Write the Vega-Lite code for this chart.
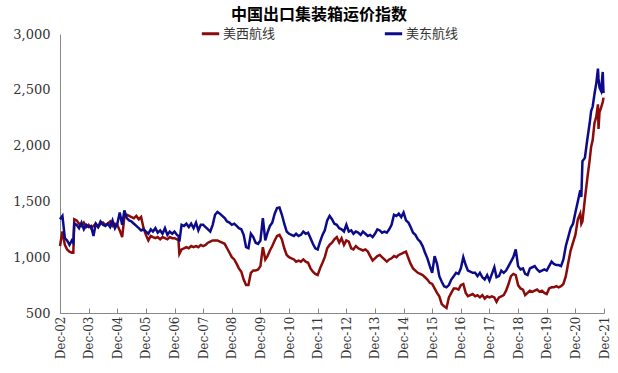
{
  "$schema": "https://vega.github.io/schema/vega-lite/v6.json",
  "width": 544,
  "height": 279,
  "autosize": {"type": "none"},
  "padding": {"left": 60, "top": 34, "right": 14, "bottom": 60},
  "background": "white",
  "title": {"text": "中国出口集装箱运价指数", "font": "Noto Sans CJK SC", "fontSize": 16, "fontWeight": "bold", "color": "#000", "anchor": "middle", "frame": "group", "offset": 2, "dx": -13, "dy": 2},
  "config": {"view": {"stroke": null}},
  "data": {"values": [
    {"d":"2002-12-01","美西航线":1100,"美东航线":1340},
    {"d":"2003-01-01","美西航线":1230,"美东航线":1370},
    {"d":"2003-02-01","美西航线":1110,"美东航线":1170},
    {"d":"2003-03-01","美西航线":1070,"美东航线":1150},
    {"d":"2003-04-01","美西航线":1050,"美东航线":1110},
    {"d":"2003-05-01","美西航线":1040,"美东航线":1150},
    {"d":"2003-05-20","美西航线":1040,"美东航线":1130},
    {"d":"2003-06-01","美西航线":1340,"美东航线":1300},
    {"d":"2003-07-01","美西航线":1330,"美东航线":1290},
    {"d":"2003-08-01","美西航线":1300,"美东航线":1260},
    {"d":"2003-09-01","美西航线":1280,"美东航线":1310},
    {"d":"2003-10-01","美西航线":1310,"美东航线":1250},
    {"d":"2003-11-01","美西航线":1270,"美东航线":1290},
    {"d":"2003-12-01","美西航线":1290,"美东航线":1270},
    {"d":"2004-01-01","美西航线":1260,"美东航线":1280},
    {"d":"2004-02-01","美西航线":1280,"美东航线":1190},
    {"d":"2004-03-01","美西航线":1300,"美东航线":1300},
    {"d":"2004-04-01","美西航线":1270,"美东航线":1270},
    {"d":"2004-05-01","美西航线":1300,"美东航线":1320},
    {"d":"2004-06-01","美西航线":1310,"美东航线":1290},
    {"d":"2004-07-01","美西航线":1290,"美东航线":1280},
    {"d":"2004-08-01","美西航线":1300,"美东航线":1300},
    {"d":"2004-09-01","美西航线":1320,"美东航线":1270},
    {"d":"2004-10-01","美西航线":1280,"美东航线":1330},
    {"d":"2004-11-01","美西航线":1300,"美东航线":1260},
    {"d":"2004-12-01","美西航线":1290,"美东航线":1300},
    {"d":"2005-01-01","美西航线":1240,"美东航线":1400},
    {"d":"2005-02-01","美西航线":1180,"美东航线":1290},
    {"d":"2005-03-01","美西航线":1360,"美东航线":1420},
    {"d":"2005-04-01","美西航线":1380,"美东航线":1350},
    {"d":"2005-05-01","美西航线":1370,"美东航线":1330},
    {"d":"2005-06-01","美西航线":1360,"美东航线":1320},
    {"d":"2005-07-01","美西航线":1350,"美东航线":1300},
    {"d":"2005-08-01","美西航线":1370,"美东航线":1280},
    {"d":"2005-09-01","美西航线":1340,"美东航线":1260},
    {"d":"2005-10-01","美西航线":1360,"美东航线":1240},
    {"d":"2005-11-01","美西航线":1260,"美东航线":1250},
    {"d":"2005-12-01","美西航线":1200,"美东航线":1230},
    {"d":"2006-01-01","美西航线":1150,"美东航线":1210},
    {"d":"2006-02-01","美西航线":1190,"美东航线":1250},
    {"d":"2006-03-01","美西航线":1180,"美东航线":1230},
    {"d":"2006-04-01","美西航线":1170,"美东航线":1260},
    {"d":"2006-05-01","美西航线":1180,"美东航线":1220},
    {"d":"2006-06-01","美西航线":1160,"美东航线":1240},
    {"d":"2006-07-01","美西航线":1180,"美东航线":1210},
    {"d":"2006-08-01","美西航线":1170,"美东航线":1260},
    {"d":"2006-09-01","美西航线":1160,"美东航线":1200},
    {"d":"2006-10-01","美西航线":1180,"美东航线":1230},
    {"d":"2006-11-01","美西航线":1170,"美东航线":1210},
    {"d":"2006-12-01","美西航线":1170,"美东航线":1230},
    {"d":"2007-01-01","美西航线":1160,"美东航线":1200},
    {"d":"2007-01-20","美西航线":1150,"美东航线":1190},
    {"d":"2007-02-01","美西航线":1030,"美东航线":1140},
    {"d":"2007-03-01","美西航线":1070,"美东航线":1290},
    {"d":"2007-04-01","美西航线":1080,"美东航线":1280},
    {"d":"2007-05-01","美西航线":1090,"美东航线":1300},
    {"d":"2007-06-01","美西航线":1080,"美东航线":1270},
    {"d":"2007-07-01","美西航线":1100,"美东航线":1300},
    {"d":"2007-08-01","美西航线":1090,"美东航线":1260},
    {"d":"2007-09-01","美西航线":1100,"美东航线":1310},
    {"d":"2007-10-01","美西航线":1090,"美东航线":1240},
    {"d":"2007-11-01","美西航线":1110,"美东航线":1290},
    {"d":"2007-12-01","美西航线":1100,"美东航线":1290},
    {"d":"2008-01-01","美西航线":1110,"美东航线":1270},
    {"d":"2008-02-01","美西航线":1130,"美东航线":1250},
    {"d":"2008-03-01","美西航线":1140,"美东航线":1230},
    {"d":"2008-04-01","美西航线":1150,"美东航线":1290},
    {"d":"2008-05-01","美西航线":1150,"美东航线":1380},
    {"d":"2008-06-01","美西航线":1150,"美东航线":1405},
    {"d":"2008-07-01","美西航线":1140,"美东航线":1390},
    {"d":"2008-08-01","美西航线":1130,"美东航线":1370},
    {"d":"2008-09-01","美西航线":1120,"美东航线":1350},
    {"d":"2008-10-01","美西航线":1080,"美东航线":1320},
    {"d":"2008-11-01","美西航线":1040,"美东航线":1310},
    {"d":"2008-12-01","美西航线":1000,"美东航线":1290},
    {"d":"2009-01-01","美西航线":980,"美东航线":1300},
    {"d":"2009-02-01","美西航线":940,"美东航线":1280},
    {"d":"2009-03-01","美西航线":900,"美东航线":1260},
    {"d":"2009-04-01","美西航线":870,"美东航线":1250},
    {"d":"2009-05-01","美西航线":800,"美东航线":1200},
    {"d":"2009-06-01","美西航线":750,"美东航线":1090},
    {"d":"2009-07-01","美西航线":750,"美东航线":1080},
    {"d":"2009-08-01","美西航线":860,"美东航线":1210},
    {"d":"2009-09-01","美西航线":880,"美东航线":1180},
    {"d":"2009-10-01","美西航线":880,"美东航线":1130},
    {"d":"2009-11-01","美西航线":890,"美东航线":1120},
    {"d":"2009-12-01","美西航线":920,"美东航线":1150},
    {"d":"2010-01-01","美西航线":1090,"美东航线":1350},
    {"d":"2010-02-01","美西航线":980,"美东航线":1150},
    {"d":"2010-03-01","美西航线":1010,"美东航线":1220},
    {"d":"2010-04-01","美西航线":1060,"美东航线":1280},
    {"d":"2010-05-01","美西航线":1100,"美东航线":1310},
    {"d":"2010-06-01","美西航线":1150,"美东航线":1390},
    {"d":"2010-07-01","美西航线":1190,"美东航线":1440},
    {"d":"2010-08-01","美西航线":1200,"美东航线":1445},
    {"d":"2010-09-01","美西航线":1160,"美东航线":1380},
    {"d":"2010-10-01","美西航线":1080,"美东航线":1300},
    {"d":"2010-11-01","美西航线":1020,"美东航线":1230},
    {"d":"2010-12-01","美西航线":1000,"美东航线":1210},
    {"d":"2011-01-01","美西航线":990,"美东航线":1200},
    {"d":"2011-02-01","美西航线":980,"美东航线":1190},
    {"d":"2011-03-01","美西航线":960,"美东航线":1210},
    {"d":"2011-04-01","美西航线":970,"美东航线":1190},
    {"d":"2011-05-01","美西航线":960,"美东航线":1200},
    {"d":"2011-06-01","美西航线":980,"美东航线":1230},
    {"d":"2011-07-01","美西航线":960,"美东航线":1210},
    {"d":"2011-08-01","美西航线":950,"美东航线":1220},
    {"d":"2011-09-01","美西航线":900,"美东航线":1170},
    {"d":"2011-10-01","美西航线":870,"美东航线":1120},
    {"d":"2011-11-01","美西航线":850,"美东航线":1080},
    {"d":"2011-12-01","美西航线":840,"美东航线":1070},
    {"d":"2012-01-01","美西航线":900,"美东航线":1140},
    {"d":"2012-02-01","美西航线":950,"美东航线":1200},
    {"d":"2012-03-01","美西航线":1000,"美东航线":1240},
    {"d":"2012-04-01","美西航线":1080,"美东航线":1330},
    {"d":"2012-05-01","美西航线":1110,"美东航线":1370},
    {"d":"2012-06-01","美西航线":1130,"美东航线":1340},
    {"d":"2012-07-01","美西航线":1160,"美东航线":1300},
    {"d":"2012-08-01","美西航线":1180,"美东航线":1290},
    {"d":"2012-09-01","美西航线":1130,"美东航线":1260},
    {"d":"2012-10-01","美西航线":1170,"美东航线":1250},
    {"d":"2012-11-01","美西航线":1110,"美东航线":1230},
    {"d":"2012-12-01","美西航线":1150,"美东航线":1290},
    {"d":"2013-01-01","美西航线":1140,"美东航线":1230},
    {"d":"2013-02-01","美西航线":1080,"美东航线":1240},
    {"d":"2013-03-01","美西航线":1070,"美东航线":1210},
    {"d":"2013-04-01","美西航线":1100,"美东航线":1230},
    {"d":"2013-05-01","美西航线":1080,"美东航线":1220},
    {"d":"2013-06-01","美西航线":1070,"美东航线":1200},
    {"d":"2013-07-01","美西航线":1060,"美东航线":1230},
    {"d":"2013-08-01","美西航线":1070,"美东航线":1210},
    {"d":"2013-09-01","美西航线":1050,"美东航线":1190},
    {"d":"2013-10-01","美西航线":1010,"美东航线":1200},
    {"d":"2013-11-01","美西航线":970,"美东航线":1180},
    {"d":"2013-12-01","美西航线":990,"美东航线":1210},
    {"d":"2014-01-01","美西航线":1010,"美东航线":1250},
    {"d":"2014-02-01","美西航线":1020,"美东航线":1240},
    {"d":"2014-03-01","美西航线":1000,"美东航线":1220},
    {"d":"2014-04-01","美西航线":980,"美东航线":1230},
    {"d":"2014-05-01","美西航线":960,"美东航线":1220},
    {"d":"2014-06-01","美西航线":980,"美东航线":1250},
    {"d":"2014-07-01","美西航线":990,"美东航线":1290},
    {"d":"2014-08-01","美西航线":1010,"美东航线":1380},
    {"d":"2014-09-01","美西航线":1000,"美东航线":1370},
    {"d":"2014-10-01","美西航线":1020,"美东航线":1390},
    {"d":"2014-11-01","美西航线":1030,"美东航线":1360},
    {"d":"2014-12-01","美西航线":1040,"美东航线":1400},
    {"d":"2015-01-01","美西航线":1050,"美东航线":1330},
    {"d":"2015-02-01","美西航线":990,"美东航线":1310},
    {"d":"2015-03-01","美西航线":940,"美东航线":1270},
    {"d":"2015-04-01","美西航线":900,"美东航线":1220},
    {"d":"2015-05-01","美西航线":880,"美东航线":1200},
    {"d":"2015-06-01","美西航线":860,"美东航线":1160},
    {"d":"2015-07-01","美西航线":850,"美东航线":1140},
    {"d":"2015-08-01","美西航线":840,"美东航线":1100},
    {"d":"2015-09-01","美西航线":820,"美东航线":1040},
    {"d":"2015-10-01","美西航线":800,"美东航线":990},
    {"d":"2015-11-01","美西航线":770,"美东航线":920},
    {"d":"2015-12-01","美西航线":760,"美东航线":860},
    {"d":"2016-01-01","美西航线":720,"美东航线":1010},
    {"d":"2016-02-01","美西航线":680,"美东航线":940},
    {"d":"2016-03-01","美西航线":650,"美东航线":830},
    {"d":"2016-04-01","美西航线":580,"美东航线":780},
    {"d":"2016-05-01","美西航线":560,"美东航线":740},
    {"d":"2016-06-01","美西航线":545,"美东航线":730},
    {"d":"2016-07-01","美西航线":640,"美东航线":750},
    {"d":"2016-08-01","美西航线":680,"美东航线":800},
    {"d":"2016-09-01","美西航线":720,"美东航线":830},
    {"d":"2016-10-01","美西航线":720,"美东航线":860},
    {"d":"2016-11-01","美西航线":710,"美东航线":850},
    {"d":"2016-12-01","美西航线":750,"美东航线":900},
    {"d":"2017-01-01","美西航线":760,"美东航线":1000},
    {"d":"2017-02-01","美西航线":680,"美东航线":930},
    {"d":"2017-03-01","美西航线":650,"美东航线":880},
    {"d":"2017-04-01","美西航线":660,"美东航线":870},
    {"d":"2017-05-01","美西航线":670,"美东航线":860},
    {"d":"2017-06-01","美西航线":650,"美东航线":860},
    {"d":"2017-07-01","美西航线":660,"美东航线":830},
    {"d":"2017-08-01","美西航线":640,"美东航线":860},
    {"d":"2017-09-01","美西航线":660,"美东航线":820},
    {"d":"2017-10-01","美西航线":630,"美东航线":800},
    {"d":"2017-11-01","美西航线":650,"美东航线":840},
    {"d":"2017-12-01","美西航线":640,"美东航线":790},
    {"d":"2018-01-01","美西航线":650,"美东航线":850},
    {"d":"2018-02-01","美西航线":640,"美东航线":910},
    {"d":"2018-03-01","美西航线":600,"美东航线":820},
    {"d":"2018-04-01","美西航线":640,"美东航线":830},
    {"d":"2018-05-01","美西航线":650,"美东航线":880},
    {"d":"2018-06-01","美西航线":660,"美东航线":860},
    {"d":"2018-07-01","美西航线":700,"美东航线":880},
    {"d":"2018-08-01","美西航线":760,"美东航线":920},
    {"d":"2018-09-01","美西航线":830,"美东航线":960},
    {"d":"2018-10-01","美西航线":850,"美东航线":1000},
    {"d":"2018-11-01","美西航线":840,"美东航线":1070},
    {"d":"2018-12-01","美西航线":750,"美东航线":920},
    {"d":"2019-01-01","美西航线":720,"美东航线":890},
    {"d":"2019-02-01","美西航线":710,"美东航线":900},
    {"d":"2019-03-01","美西航线":660,"美东航线":850},
    {"d":"2019-04-01","美西航线":680,"美东航线":840},
    {"d":"2019-05-01","美西航线":700,"美东航线":900},
    {"d":"2019-06-01","美西航线":690,"美东航线":910},
    {"d":"2019-07-01","美西航线":700,"美东航线":920},
    {"d":"2019-08-01","美西航线":710,"美东航线":890},
    {"d":"2019-09-01","美西航线":690,"美东航线":870},
    {"d":"2019-10-01","美西航线":700,"美东航线":880},
    {"d":"2019-11-01","美西航线":680,"美东航线":890},
    {"d":"2019-12-01","美西航线":670,"美东航线":880},
    {"d":"2020-01-01","美西航线":720,"美东航线":920},
    {"d":"2020-02-01","美西航线":730,"美东航线":960},
    {"d":"2020-03-01","美西航线":730,"美东航线":940},
    {"d":"2020-04-01","美西航线":740,"美东航线":930},
    {"d":"2020-05-01","美西航线":730,"美东航线":930},
    {"d":"2020-06-01","美西航线":740,"美东航线":920},
    {"d":"2020-07-01","美西航线":760,"美东航线":980},
    {"d":"2020-08-01","美西航线":830,"美东航线":1100},
    {"d":"2020-09-01","美西航线":950,"美东航线":1180},
    {"d":"2020-10-01","美西航线":1060,"美东航线":1260},
    {"d":"2020-11-01","美西航线":1130,"美东航线":1300},
    {"d":"2020-12-01","美西航线":1200,"美东航线":1400},
    {"d":"2021-01-01","美西航线":1340,"美东航线":1500},
    {"d":"2021-02-01","美西航线":1390,"美东航线":1600},
    {"d":"2021-02-15","美西航线":1300,"美东航线":1540},
    {"d":"2021-03-01","美西航线":1320,"美东航线":1860},
    {"d":"2021-04-01","美西航线":1520,"美东航线":1890},
    {"d":"2021-05-01","美西航线":1700,"美东航线":2050},
    {"d":"2021-06-01","美西航线":1870,"美东航线":2200},
    {"d":"2021-06-20","美西航线":1990,"美东航线":2310},
    {"d":"2021-07-10","美西航线":2050,"美东航线":2350},
    {"d":"2021-08-01","美西航线":2200,"美东航线":2460},
    {"d":"2021-08-25","美西航线":2260,"美东航线":2560},
    {"d":"2021-09-15","美西航线":2370,"美东航线":2690},
    {"d":"2021-09-22","美西航线":2150,"美东航线":2600},
    {"d":"2021-10-05","美西航线":2300,"美东航线":2520},
    {"d":"2021-10-25","美西航线":2340,"美东航线":2490},
    {"d":"2021-11-15","美西航线":2390,"美东航线":2660},
    {"d":"2021-11-25","美西航线":2430,"美东航线":2470}
  ]},
  "transform": [{"fold": ["美西航线", "美东航线"], "as": ["s", "v"]}],
  "mark": {"type": "line", "strokeWidth": 2.5, "interpolate": "linear"},
  "encoding": {
    "x": {
      "field": "d", "type": "temporal",
      "scale": {"type": "utc", "domain": [{"year": 2002, "month": 12, "date": 1, "utc": true}, {"year": 2021, "month": 12, "date": 1, "utc": true}]},
      "axis": {
        "title": null, "grid": false, "format": "%b-%y",
        "values": [
          {"year": 2002, "month": 12, "date": 1, "utc": true},
          {"year": 2003, "month": 12, "date": 1, "utc": true},
          {"year": 2004, "month": 12, "date": 1, "utc": true},
          {"year": 2005, "month": 12, "date": 1, "utc": true},
          {"year": 2006, "month": 12, "date": 1, "utc": true},
          {"year": 2007, "month": 12, "date": 1, "utc": true},
          {"year": 2008, "month": 12, "date": 1, "utc": true},
          {"year": 2009, "month": 12, "date": 1, "utc": true},
          {"year": 2010, "month": 12, "date": 1, "utc": true},
          {"year": 2011, "month": 12, "date": 1, "utc": true},
          {"year": 2012, "month": 12, "date": 1, "utc": true},
          {"year": 2013, "month": 12, "date": 1, "utc": true},
          {"year": 2014, "month": 12, "date": 1, "utc": true},
          {"year": 2015, "month": 12, "date": 1, "utc": true},
          {"year": 2016, "month": 12, "date": 1, "utc": true},
          {"year": 2017, "month": 12, "date": 1, "utc": true},
          {"year": 2018, "month": 12, "date": 1, "utc": true},
          {"year": 2019, "month": 12, "date": 1, "utc": true},
          {"year": 2020, "month": 12, "date": 1, "utc": true},
          {"year": 2021, "month": 12, "date": 1, "utc": true}
        ],
        "labelAngle": -90, "labelFont": "DejaVu Serif", "labelFontSize": 12, "labelColor": "#333",
        "labelPadding": 8, "labelOverlap": false, "labelFlush": false,
        "domainColor": "#888", "tickColor": "#888", "tickSize": -5
      }
    },
    "y": {
      "field": "v", "type": "quantitative",
      "scale": {"domain": [500, 3000], "nice": false, "zero": false},
      "axis": {
        "title": null, "grid": false, "values": [500, 1000, 1500, 2000, 2500, 3000], "format": ",.0f",
        "ticks": false, "labelFont": "DejaVu Serif", "labelFontSize": 13, "labelColor": "#333",
        "labelPadding": 10, "domainColor": "#888"
      }
    },
    "color": {
      "field": "s", "type": "nominal", "sort": ["美西航线", "美东航线"],
      "scale": {"domain": ["美西航线", "美东航线"], "range": ["#8B0A0A", "#0C0C8A"]},
      "legend": {
        "title": null, "orient": "none", "legendX": 140, "legendY": -11, "direction": "horizontal",
        "symbolType": "stroke", "symbolSize": 300, "symbolStrokeWidth": 3,
        "labelFont": "Noto Sans CJK SC", "labelFontSize": 13, "labelColor": "#333", "labelOffset": 2,
        "columnPadding": 102
      }
    }
  }
}
